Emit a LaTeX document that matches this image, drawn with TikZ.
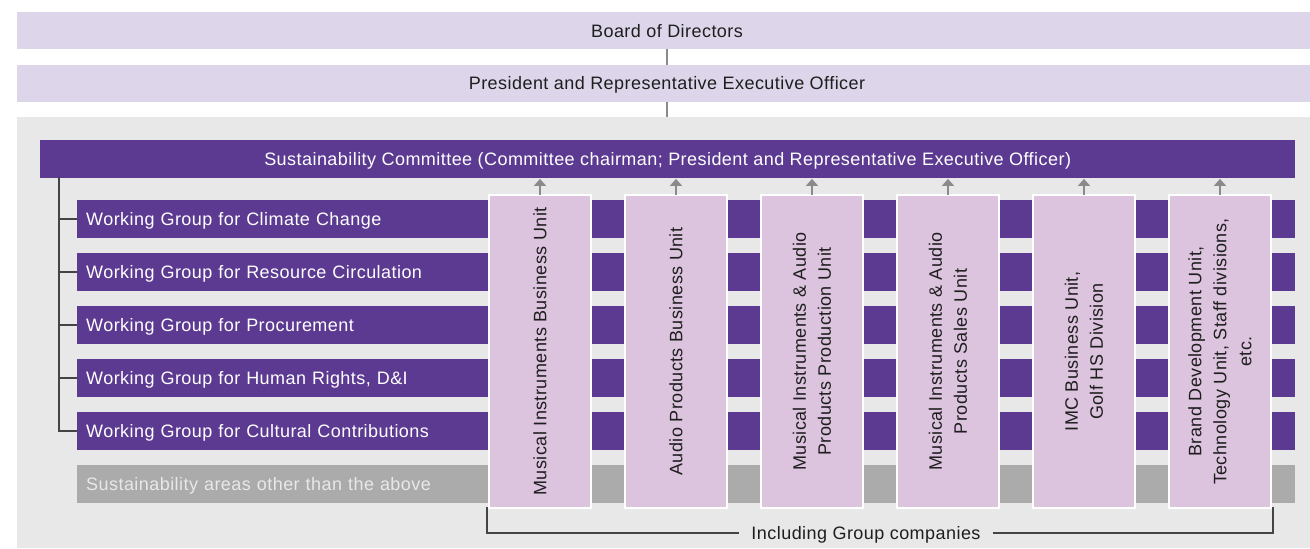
\documentclass[tikz,border=0pt]{standalone}
\usepackage{fontspec}
\setmainfont{Liberation Sans}[LetterSpace=2.5]
\usetikzlibrary{arrows.meta}
\definecolor{toplav}{HTML}{DDD6EA}
\definecolor{purp}{HTML}{5C3A92}
\definecolor{unitlav}{HTML}{DCC3DE}
\definecolor{bggray}{HTML}{E8E8E8}
\definecolor{othergray}{HTML}{AAABAA}
\definecolor{arrgray}{HTML}{8A8A8A}
\definecolor{linedark}{HTML}{444444}
\definecolor{txtdark}{HTML}{1E1E1E}
\begin{document}
\begin{tikzpicture}[x=1pt,y=-1pt,
  every node/.style={font=\fontsize{18}{25}\selectfont},
  capcenter/.style={text height=12.9pt, text depth=0pt},
  topbar/.style={fill=toplav, draw=none, minimum width=1293pt, minimum height=37pt, anchor=north west, inner sep=0pt},
  toptext/.style={text=txtdark, inner sep=0pt, capcenter},
  purpbar/.style={fill=purp, draw=none, minimum height=37.5pt, anchor=north west, inner sep=0pt, capcenter},
  wgbar/.style={purpbar, minimum width=1218pt, text width=1200pt, inner xsep=9pt, align=left, text=white},
  otherbar/.style={wgbar, fill=othergray, text=bggray},
  unitbox/.style={fill=unitlav, draw=white, line width=2pt, minimum width=102pt, minimum height=313pt, anchor=north west, inner sep=0pt},
  unittext/.style={rotate=90, align=center, text=txtdark, inner sep=0pt},
  conn/.style={draw=arrgray, line width=2pt},
  uparrow/.style={draw=arrgray, line width=2.5pt, -{Triangle[width=12pt,length=7pt]}, shorten >=1pt},
  tree/.style={draw=linedark, line width=1.2pt},
  bracket/.style={draw=linedark, line width=1.2pt}
]
\useasboundingbox (0,0) rectangle (1310,549);
\fill[white] (0,0) rectangle (1310,549);
% top bars
\node[topbar] (boardbar) at (17,12) {};
\node[toptext] (board) at (667,30.8) {Board of Directors};
\node[topbar] (presbar) at (17,64.5) {};
\node[toptext] (pres) at (667,83.3) {President and Representative Executive Officer};
\fill[bggray] (17,117) rectangle (1310,548);
\draw[conn] (board |- boardbar.south) -- (board |- presbar.north);
\draw[conn] (pres |- presbar.south) -- (pres |- 0,117);
% committee
\node[purpbar, minimum width=1255pt, text=white] (comm) at (40,140) {Sustainability Committee (Committee chairman; President and Representative Executive Officer)};
% working groups
\node[wgbar] (wg1) at (77,200) {Working Group for Climate Change};
\node[wgbar] (wg2) at (77,253) {Working Group for Resource Circulation};
\node[wgbar] (wg3) at (77,306) {Working Group for Procurement};
\node[wgbar] (wg4) at (77,359) {Working Group for Human Rights, D\&I};
\node[wgbar] (wg5) at (77,412) {Working Group for Cultural Contributions};
\node[otherbar] (other) at (77,465) {Sustainability areas other than the above};
% tree
\coordinate (trunk) at (59,177);
\draw[tree] (trunk) |- (wg5.west);
\foreach \w in {wg1,wg2,wg3,wg4}{\draw[tree] (\w.west) -- (\w.west -| trunk);}
% units
\node[unitbox] (u1) at (488,194) {};
\node[unitbox] (u2) at (624,194) {};
\node[unitbox] (u3) at (760,194) {};
\node[unitbox] (u4) at (896,194) {};
\node[unitbox] (u5) at (1032,194) {};
\node[unitbox] (u6) at (1168,194) {};
\node[unittext] (t1) at (u1.center) {Musical Instruments Business Unit};
\node[unittext] (t2) at (u2.center) {Audio Products Business Unit};
\node[unittext] (t3) at (u3.center) {Musical Instruments \& Audio\\Products Production Unit};
\node[unittext] (t4) at (u4.center) {Musical Instruments \& Audio\\Products Sales Unit};
\node[unittext] (t5) at (u5.center) {IMC Business Unit,\\Golf HS Division};
\node[unittext] (t6) at (u6.center) {Brand Development Unit,\\Technology Unit, Staff divisions,\\etc.};
\foreach \u in {u1,u2,u3,u4,u5,u6}{\draw[uparrow] ([yshift=-1pt]\u.north) -- (\u.north |- comm.south);}
% bracket
\node[text=txtdark, fill=bggray, inner xsep=12pt, inner ysep=2pt, capcenter] (incl) at (866,533) {Including Group companies};
\draw[bracket] ([xshift=-1pt,yshift=2pt]u1.south west) |- (incl.west);
\draw[bracket] (incl.east) -| ([xshift=1pt,yshift=2pt]u6.south east);
\end{tikzpicture}
\end{document}
